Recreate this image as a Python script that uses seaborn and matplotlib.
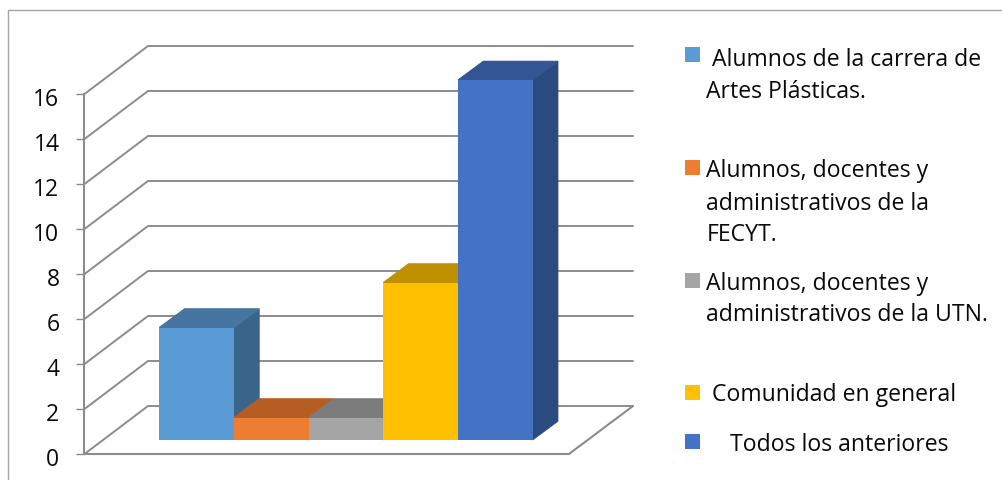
import matplotlib
matplotlib.use("Agg")
import matplotlib.pyplot as plt
import pandas as pd
import seaborn as sns
from matplotlib.patches import Polygon, Rectangle
from matplotlib.transforms import IdentityTransform, ScaledTranslation

# data
grupos = ["Artes Plasticas", "FECYT", "UTN", "Comunidad", "Todos"]
valores = [5, 1, 1, 7, 16]
ticks_y = [0, 2, 4, 6, 8, 10, 12, 14, 16]

color_frente = ["#5B9BD5", "#ED7D31", "#A5A5A5", "#FFC000", "#4472C4"]
color_tapa = ["#4675A1", "#B55D22", "#7C7C7C", "#BF9000", "#335593"]
color_lado = ["#3A6488", "#9E5120", "#6C6C6C", "#A67D00", "#2A4A80"]

leyenda_textos = [
    [" Alumnos de la carrera de", "Artes Plásticas."],
    ["Alumnos, docentes y", "administrativos de la", "FECYT."],
    ["Alumnos, docentes y", "administrativos de la UTN."],
    [" Comunidad en general"],
    ["    Todos los anteriores"],
]

W, H = 1003, 481
GRIS = "#8C8C8C"

sns.set_style("white")
plt.rcParams["font.family"] = ["Open Sans", "DejaVu Sans"]
plt.rcParams["text.color"] = "#0A0A0A"

fig = plt.figure(figsize=(W / 100, H / 100), dpi=100)

# fondo en pixeles: marco, paredes y piso
bg = fig.add_axes([0, 0, 1, 1])
bg.set_xlim(0, W)
bg.set_ylim(H, 0)
bg.axis("off")
bg.plot([8, 8, W], [H, 10.5, 10.5], color="#A6A6A6", lw=1.0)

X_FRENTE, X_FONDO, X_FONDO_FIN, X_PISO_FIN = 84.5, 148, 633, 569
Y0_FRENTE, PX_UNIDAD, PROF = 455, 22.5, 48
for v in ticks_y:
    y = Y0_FRENTE - v * PX_UNIDAD
    bg.plot([X_FRENTE, X_FONDO, X_FONDO_FIN], [y, y - PROF, y - PROF], color=GRIS, lw=1.4)
bg.plot([X_FRENTE, X_PISO_FIN, X_FONDO_FIN], [Y0_FRENTE, Y0_FRENTE, Y0_FRENTE - PROF], color=GRIS, lw=1.5)

# eje y real sobre la pared frontal
eje = fig.add_axes([X_FRENTE / W, (H - Y0_FRENTE) / H, 0.001, 16 * PX_UNIDAD / H])
eje.patch.set_visible(False)
eje.set_ylim(0, 16)
eje.set_yticks(ticks_y)
eje.set_xticks([])
sns.despine(ax=eje, right=True, top=True, bottom=True)
eje.spines["left"].set_color(GRIS)
eje.spines["left"].set_linewidth(1.5)
eje.tick_params(axis="y", left=True, length=6, width=1, color=GRIS, pad=12, labelsize=16.5, labelcolor="#0A0A0A")
# las etiquetas van un poco mas abajo que su marca
bajar = ScaledTranslation(0, -2.5 / 100, fig.dpi_scale_trans)
for etiqueta in eje.get_yticklabels():
    etiqueta.set_transform(etiqueta.get_transform() + bajar)

# barras en el plano frontal de las columnas
BARRA_X0, BARRA_X1, BARRA_Y0 = 159.3, 532.7, 441
ax = fig.add_axes([BARRA_X0 / W, (H - BARRA_Y0) / H, (BARRA_X1 - BARRA_X0) / W, 16 * PX_UNIDAD / H])
ax.patch.set_visible(False)
df = pd.DataFrame({"grupo": grupos, "valor": valores})
sns.barplot(data=df, x="grupo", y="valor", hue="grupo", palette=color_frente, dodge=False,
            width=1, legend=False, ax=ax, linewidth=0, saturation=1)
ax.set_xlim(-0.5, len(grupos) - 0.5)
ax.set_ylim(0, 16)
ax.axis("off")

# caras superior y lateral
DX, DY = 25.3, 18.7
barras = sorted(ax.patches, key=lambda p: p.get_x())
for i, barra in enumerate(barras):
    x0, x1 = barra.get_x(), barra.get_x() + barra.get_width()
    alto = barra.get_height()
    (ax0, ay0), (ax1, ay1) = ax.transData.transform([(x0, alto), (x1, alto)])
    _, base = ax.transData.transform((x1, 0))
    z = 3 + i
    tapa = [(ax0, ay0), (ax1, ay1), (ax1 + DX, ay1 + DY), (ax0 + DX, ay0 + DY)]
    lado = [(ax1, ay1), (ax1 + DX, ay1 + DY), (ax1 + DX, base + DY), (ax1, base)]
    ax.add_patch(Polygon(lado, closed=True, fc=color_lado[i], ec=color_lado[i], lw=0.5,
                         transform=IdentityTransform(), zorder=z, clip_on=False))
    ax.add_patch(Polygon(tapa, closed=True, fc=color_tapa[i], ec=color_tapa[i], lw=0.8,
                         transform=IdentityTransform(), zorder=z + 0.1, clip_on=False))
    barra.set_zorder(z + 0.2)

# leyenda armada a mano, cada entrada con su posicion
x_texto = 706.5
y_lineas = [[59.5, 91.5], [171.5, 204, 235.5], [284.5, 315.5], [395.5], [445.5]]
y_marca = [48, 161, 274, 386, 435]
for i, lineas in enumerate(leyenda_textos):
    bg.add_patch(Rectangle((685, y_marca[i]), 15, 15, fc=color_frente[i], ec="none"))
    for texto, y in zip(lineas, y_lineas[i]):
        bg.text(x_texto, y, texto, fontsize=16.6, va="center", ha="left")

fig.savefig("out.png", dpi=100)
